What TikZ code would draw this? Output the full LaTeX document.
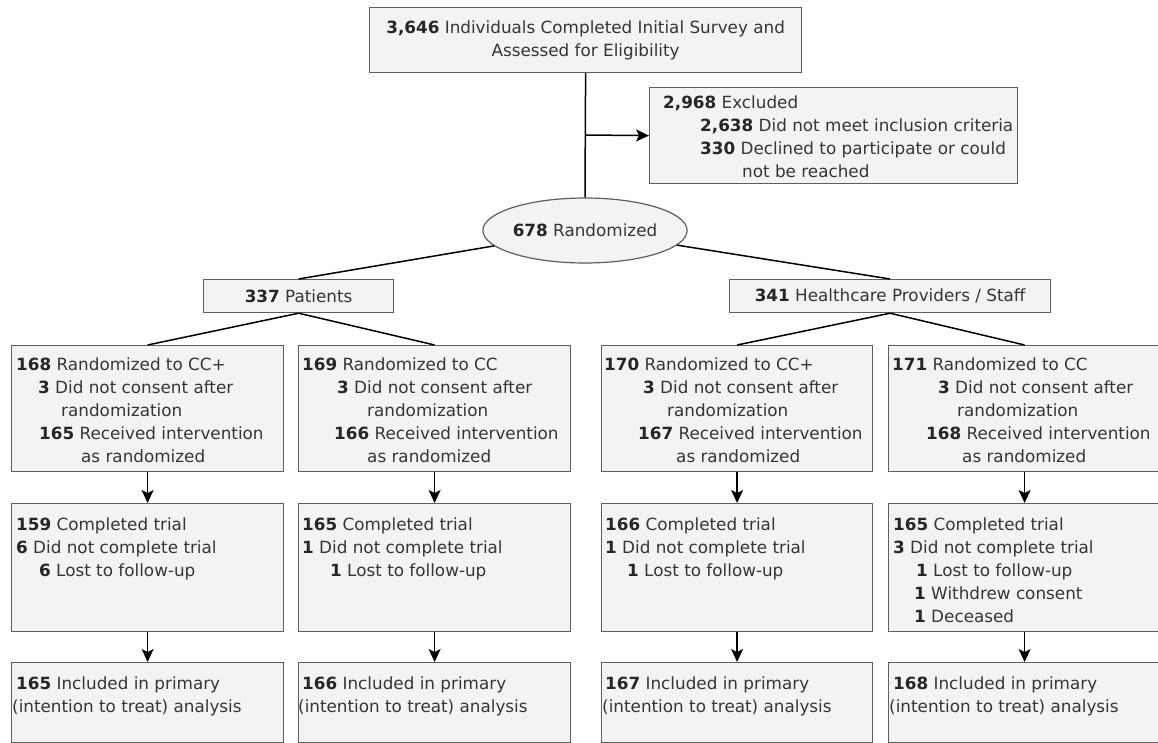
\documentclass[tikz,border=0pt]{standalone}
\usepackage{fontspec}
\setmainfont{DejaVu Sans}
\usetikzlibrary{arrows.meta,shapes.geometric}
\definecolor{boxfill}{HTML}{F3F3F3}
\definecolor{bord}{HTML}{5E5E5E}
\definecolor{txtc}{HTML}{353535}
\newcommand\myfs{\fontsize{16.8}{23}\selectfont}
\newcommand\nb[1]{\textbf{\color{black!85}#1}}
\newcommand\ind[1]{\hspace*{#1pt}}
\tikzset{
  box/.style={draw=bord, fill=boxfill, line width=1.2pt, inner sep=0pt, anchor=north west, font=\myfs, text=txtc, align=center},
  txt/.style={anchor=north west, inner sep=0pt, align=left, font=\myfs, text=txtc},
  conn/.style={line width=1.5pt, draw=black},
  arr/.style={conn, -{Stealth[length=13pt,width=12pt,inset=3pt]}},
}
\begin{document}
\begin{tikzpicture}[x=1pt,y=-1pt]
\useasboundingbox[fill=white] (0,0) rectangle (1158,743);

% top part
\node[box, minimum width=432, minimum height=65] (top) at (369,7)
  {\nb{3,646} Individuals Completed Initial Survey and\\Assessed for Eligibility};
\node[box, minimum width=368, minimum height=96] (excl) at (649,87) {};
\node[txt] (exclt) at (649,96)
  {\ind{14}\nb{2,968} Excluded\\\ind{51}\nb{2,638} Did not meet inclusion criteria\\\ind{51}\nb{330} Declined to participate or could\\\ind{93}not be reached};
\node[draw=bord, fill=boxfill, line width=1.2pt, ellipse, minimum width=194, minimum height=65, inner sep=0pt, font=\myfs, text=txtc] (ell) at (585,230.5) {\nb{678} Randomized};

\node[box, minimum width=190, minimum height=33] (pat) at (203,279) {\nb{337} Patients};
\node[box, minimum width=321, minimum height=33] (hc) at (729,279) {\nb{341} Healthcare Providers / Staff};

% row 1
\node[box, minimum width=272, minimum height=126] (A1) at (11,345) {};
\node[box, minimum width=272, minimum height=126] (B1) at (298,345) {};
\node[box, minimum width=271, minimum height=126] (C1) at (601,345) {};
\node[box, minimum width=272, minimum height=126] (D1) at (888,345) {};
\node[txt] (A1t) at (11,358) {\ind{5}\nb{168} Randomized to CC+\\\ind{27}\nb{3} Did not consent after\\\ind{50}randomization\\\ind{28}\nb{165} Received intervention\\\ind{70}as randomized};
\node[txt] (B1t) at (298,358) {\ind{4}\nb{169} Randomized to CC\\\ind{39}\nb{3} Did not consent after\\\ind{69}randomization\\\ind{36}\nb{166} Received intervention\\\ind{69}as randomized};
\node[txt] (C1t) at (601,358) {\ind{3}\nb{170} Randomized to CC+\\\ind{42}\nb{3} Did not consent after\\\ind{66}randomization\\\ind{37}\nb{167} Received intervention\\\ind{75}as randomized};
\node[txt] (D1t) at (888,358) {\ind{4}\nb{171} Randomized to CC\\\ind{50}\nb{3} Did not consent after\\\ind{69}randomization\\\ind{38}\nb{168} Received intervention\\\ind{74}as randomized};

% row 2
\node[box, minimum width=272, minimum height=128] (A2) at (11,503) {};
\node[box, minimum width=272, minimum height=128] (B2) at (298,503) {};
\node[box, minimum width=271, minimum height=128] (C2) at (601,503) {};
\node[box, minimum width=272, minimum height=128] (D2) at (888,503) {};
\node[txt] (A2t) at (11,518) {\ind{5}\nb{159} Completed trial\\\ind{5}\nb{6} Did not complete trial\\\ind{28}\nb{6} Lost to follow-up};
\node[txt] (B2t) at (298,518) {\ind{4}\nb{165} Completed trial\\\ind{4}\nb{1} Did not complete trial\\\ind{32}\nb{1} Lost to follow-up};
\node[txt] (C2t) at (601,518) {\ind{4}\nb{166} Completed trial\\\ind{4}\nb{1} Did not complete trial\\\ind{26}\nb{1} Lost to follow-up};
\node[txt] (D2t) at (888,518) {\ind{5}\nb{165} Completed trial\\\ind{5}\nb{3} Did not complete trial\\\ind{28}\nb{1} Lost to follow-up\\\ind{26}\nb{1} Withdrew consent\\\ind{26}\nb{1} Deceased};

% row 3
\node[box, minimum width=272, minimum height=80] (A3) at (11,662) {};
\node[box, minimum width=272, minimum height=80] (B3) at (298,662) {};
\node[box, minimum width=271, minimum height=80] (C3) at (601,662) {};
\node[box, minimum width=272, minimum height=80] (D3) at (888,662) {};
\node[txt] (A3t) at (11,677) {\ind{5}\nb{165} Included in primary\\\ind{1}(intention to treat) analysis};
\node[txt] (B3t) at (298,677) {\ind{4}\nb{166} Included in primary\\\ind{0}(intention to treat) analysis};
\node[txt] (C3t) at (601,677) {\ind{4}\nb{167} Included in primary\\\ind{1}(intention to treat) analysis};
\node[txt] (D3t) at (888,677) {\ind{5}\nb{168} Included in primary\\\ind{1}(intention to treat) analysis};

% connectors
\coordinate (br) at (585,135);
\draw[conn] (top.south) -- (ell.north);
\draw[arr] (br) -- (excl.west);
\draw[conn] (ell) -- (pat.north);
\draw[conn] (ell) -- (hc.north);
\draw[conn] (pat.south) -- (A1.north);
\draw[conn] (pat.south) -- (B1.north);
\draw[conn] (hc.south) -- (C1.north);
\draw[conn] (hc.south) -- (D1.north);
\foreach \c in {A,B,C,D}{
  \draw[arr] (\c1.south) -- (\c2.north);
  \draw[arr] (\c2.south) -- (\c3.north);
}
\end{tikzpicture}
\end{document}
